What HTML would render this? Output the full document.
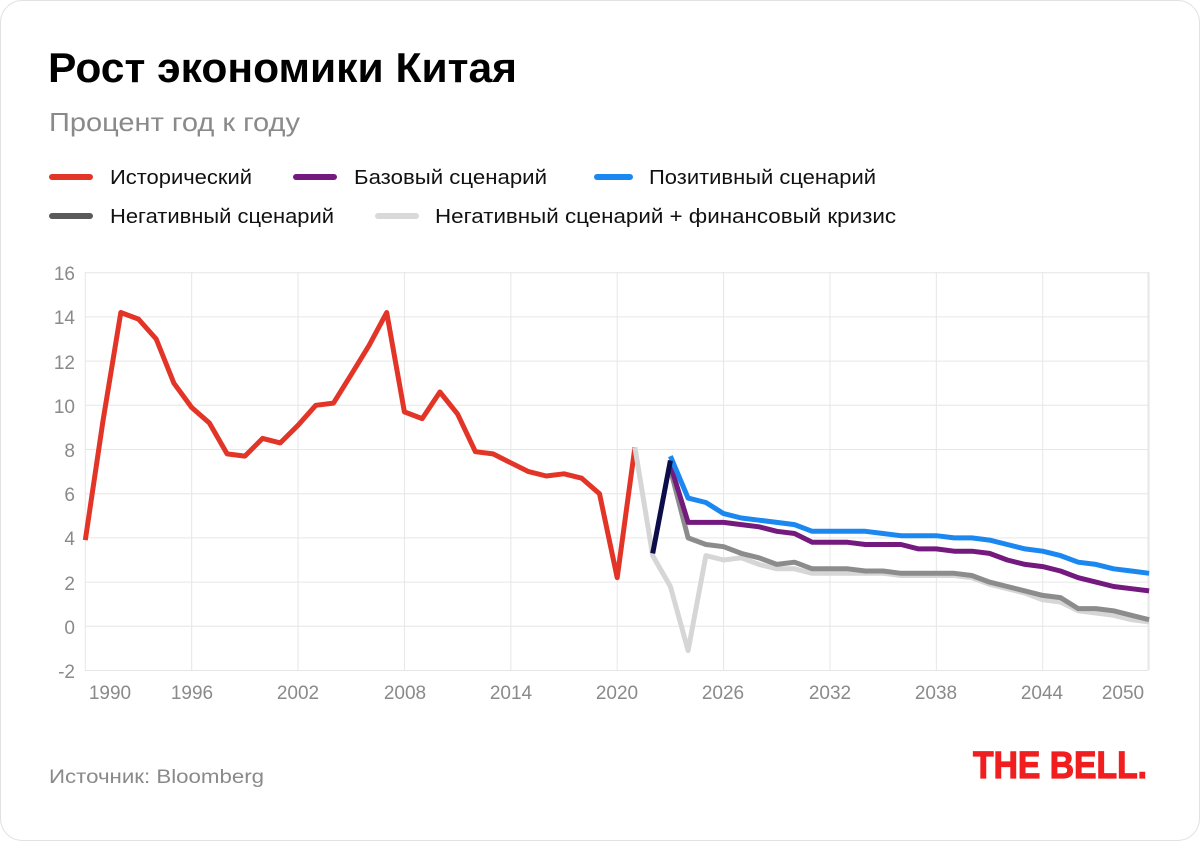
<!DOCTYPE html>
<html><head><meta charset="utf-8"><style>
body{margin:0;background:#fff;width:1200px;height:841px;overflow:hidden;font-family:"Liberation Sans",sans-serif}
</style></head><body>
<svg id="s" width="1200" height="841" xmlns="http://www.w3.org/2000/svg" style="position:absolute;left:0;top:0">
<rect x="0.5" y="0.5" width="1199" height="840" rx="22" fill="#fff" stroke="#e2e2e2"/>
<text x="48" y="82" font-size="42" font-weight="bold" fill="#000" textLength="469" lengthAdjust="spacingAndGlyphs">Рост экономики Китая</text>
<text x="49" y="131" font-size="26" fill="#8a8a8a" textLength="251" lengthAdjust="spacingAndGlyphs">Процент год к году</text>
<g font-size="20" fill="#111">
<line x1="52" y1="177" x2="90" y2="177" stroke="#e33527" stroke-width="6" stroke-linecap="round"/>
<text x="110" y="184" textLength="142" lengthAdjust="spacingAndGlyphs">Исторический</text>
<line x1="296" y1="177" x2="334" y2="177" stroke="#741a7f" stroke-width="6" stroke-linecap="round"/>
<text x="354" y="184" textLength="193" lengthAdjust="spacingAndGlyphs">Базовый сценарий</text>
<line x1="597" y1="177" x2="630" y2="177" stroke="#1a88f0" stroke-width="6" stroke-linecap="round"/>
<text x="649" y="184" textLength="227" lengthAdjust="spacingAndGlyphs">Позитивный сценарий</text>
<line x1="52" y1="216" x2="90" y2="216" stroke="#5a5a5a" stroke-width="6" stroke-linecap="round"/>
<text x="110" y="223" textLength="224" lengthAdjust="spacingAndGlyphs">Негативный сценарий</text>
<line x1="378" y1="216" x2="416" y2="216" stroke="#d9d9d9" stroke-width="6" stroke-linecap="round"/>
<text x="435" y="223" textLength="461" lengthAdjust="spacingAndGlyphs">Негативный сценарий + финансовый кризис</text>
</g>
<g id="grid" stroke="#e6e6e6" stroke-width="1"></g>
<g id="ylab" font-size="19" fill="#8a8a8a" text-anchor="end">
<text x="75" y="280">16</text><text x="75" y="324">14</text><text x="75" y="369">12</text><text x="75" y="413">10</text><text x="75" y="457">8</text><text x="75" y="501">6</text><text x="75" y="545">4</text><text x="75" y="590">2</text><text x="75" y="634">0</text><text x="75" y="678">-2</text>
</g>
<g font-size="19" fill="#8a8a8a" text-anchor="middle">
<text x="110" y="699">1990</text><text x="192" y="699">1996</text><text x="298" y="699">2002</text><text x="405" y="699">2008</text><text x="511" y="699">2014</text><text x="617" y="699">2020</text><text x="723" y="699">2026</text><text x="830" y="699">2032</text><text x="936" y="699">2038</text><text x="1042" y="699">2044</text><text x="1123" y="699">2050</text>
</g>
<g id="lines" fill="none" stroke-width="5" stroke-linejoin="round"></g>
<text x="49" y="783" font-size="19" fill="#8a8a8a" textLength="215" lengthAdjust="spacingAndGlyphs">Источник: Bloomberg</text>
<text x="973" y="778" font-size="38" font-weight="bold" fill="#f01e1e" stroke="#f01e1e" stroke-width="1.2" textLength="174" lengthAdjust="spacingAndGlyphs">THE BELL.</text>
</svg>
<script>
var X=function(y){return 85.3+(y-1990)*17.73},Y=function(v){return 626.3-v*22.1};
var g=document.getElementById('grid'),ns='http://www.w3.org/2000/svg';
function el(p,t,a){var e=document.createElementNS(ns,t);for(var k in a)e.setAttribute(k,a[k]);p.appendChild(e);return e}
for(var v=-2;v<=16;v+=2)el(g,'line',{x1:85,x2:1148,y1:Y(v),y2:Y(v)});
for(var yr=1990;yr<=2050;yr+=6)el(g,'line',{x1:X(yr),x2:X(yr),y1:272,y2:670});
el(g,'line',{x1:1148,x2:1148,y1:272,y2:670});
function pts(start,arr){return arr.map(function(v,i){return X(start+i).toFixed(1)+','+Y(v).toFixed(1)}).join(' ')}
var L=document.getElementById('lines');
var red=[3.9,9.3,14.2,13.9,13.0,11.0,9.9,9.2,7.8,7.7,8.5,8.3,9.1,10.0,10.1,11.4,12.7,14.2,9.7,9.4,10.6,9.6,7.9,7.8,7.4,7.0,6.8,6.9,6.7,6.0,2.2,8.1];
var lg=[8.1,3.2,1.8,-1.1,3.2,3.0,3.1,2.8,2.6,2.6,2.4,2.4,2.4,2.4,2.4,2.3,2.3,2.3,2.3,2.2,1.9,1.7,1.5,1.2,1.1,0.7,0.6,0.5,0.3,0.2];
var dg=[7.1,4.0,3.7,3.6,3.3,3.1,2.8,2.9,2.6,2.6,2.6,2.5,2.5,2.4,2.4,2.4,2.4,2.3,2.0,1.8,1.6,1.4,1.3,0.8,0.8,0.7,0.5,0.3];
var pu=[7.3,4.7,4.7,4.7,4.6,4.5,4.3,4.2,3.8,3.8,3.8,3.7,3.7,3.7,3.5,3.5,3.4,3.4,3.3,3.0,2.8,2.7,2.5,2.2,2.0,1.8,1.7,1.6];
var bl=[7.7,5.8,5.6,5.1,4.9,4.8,4.7,4.6,4.3,4.3,4.3,4.3,4.2,4.1,4.1,4.1,4.0,4.0,3.9,3.7,3.5,3.4,3.2,2.9,2.8,2.6,2.5,2.4];
el(L,'polyline',{points:pts(1990,red),stroke:'#e33527'});
el(L,'polyline',{points:pts(2021,lg),stroke:'#d6d6d6'});
el(L,'polyline',{points:pts(2023,dg),stroke:'#8c8c8c'});
el(L,'polyline',{points:pts(2023,pu),stroke:'#741a7f'});
el(L,'polyline',{points:pts(2023,bl),stroke:'#1a88f0'});
el(L,'polyline',{points:pts(2022,[3.3,7.5]),stroke:'#0d0d4a'});
</script>
</body></html>
